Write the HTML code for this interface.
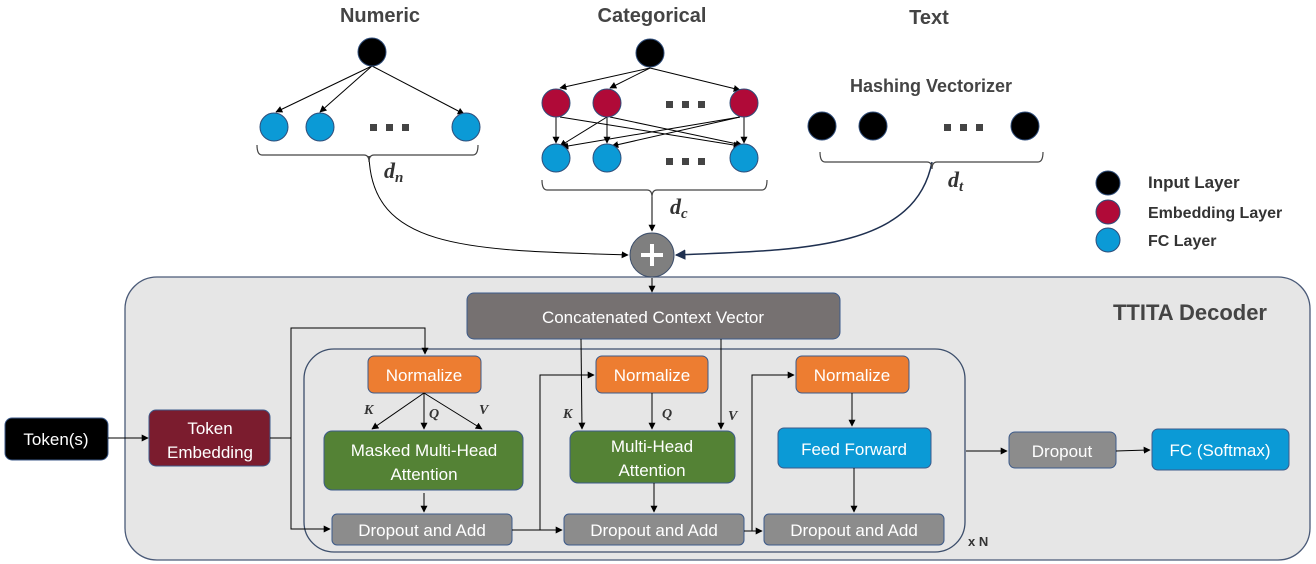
<!DOCTYPE html>
<html><head><meta charset="utf-8"><style>
html,body{margin:0;padding:0;background:#fff;}
svg{display:block;}
.t{font-family:"Liberation Sans",sans-serif;}
.w{font-family:"Liberation Sans",sans-serif;fill:#fff;font-size:17px;text-anchor:middle;}
.h{font-family:"Liberation Sans",sans-serif;font-weight:bold;fill:#444;text-anchor:middle;}
.m{font-family:"Liberation Serif",serif;font-weight:bold;font-style:italic;fill:#333;}
</style></head><body>
<svg width="1316" height="564" viewBox="0 0 1316 564" xmlns="http://www.w3.org/2000/svg">
<defs><marker id="a" viewBox="0 0 10 10" refX="9" refY="5" markerWidth="7" markerHeight="7" orient="auto"><path d="M0,0L10,5L0,10z" fill="#000"/></marker>
<marker id="b" viewBox="0 0 10 10" refX="9" refY="5" markerWidth="7" markerHeight="7" orient="auto"><path d="M0,0L10,5L0,10z" fill="#1f3050"/></marker></defs>
<g stroke="#000" stroke-width="1" fill="none">
<rect x="125" y="277" width="1185" height="283" rx="32" fill="#e6e6e6" stroke="#4a5a78" stroke-width="1.3"/>
<rect x="304" y="349" width="661" height="203" rx="30" fill="#e6e6e6" stroke="#3c4e6b" stroke-width="1.3"/>
</g>
<text class="h" x="380" y="22" font-size="20">Numeric</text>
<text class="h" x="652" y="22" font-size="20">Categorical</text>
<text class="h" x="929" y="24" font-size="20">Text</text>
<text class="h" x="931" y="92" font-size="18">Hashing Vectorizer</text>
<g stroke="#000" stroke-width="1" fill="none" marker-end="url(#a)">
<line x1="372" y1="66" x2="276" y2="112"/><line x1="372" y1="66" x2="320" y2="112"/><line x1="372" y1="66" x2="464" y2="114"/>
<line x1="650" y1="68" x2="560" y2="88"/><line x1="650" y1="68" x2="610" y2="88"/><line x1="650" y1="68" x2="740" y2="90"/>
<line x1="556" y1="117" x2="556" y2="143"/><line x1="607" y1="117" x2="607" y2="143"/><line x1="744" y1="117" x2="744" y2="143"/>
<line x1="560" y1="117" x2="740" y2="146"/><line x1="610" y1="117" x2="742" y2="145"/><line x1="607" y1="117" x2="560" y2="146"/>
<line x1="740" y1="117" x2="562" y2="147"/><line x1="740" y1="117" x2="612" y2="146"/>
<line x1="652" y1="195" x2="652" y2="231"/>
<line x1="652" y1="278" x2="652" y2="292"/>
</g>
<path d="M369 156 C 372 250, 470 250, 628 255" stroke="#000" fill="none" marker-end="url(#a)"/>
<path d="M932 162 C 915 250, 800 250, 676 255" stroke="#1f3050" stroke-width="1.5" fill="none" marker-end="url(#b)"/>
<g stroke="#2f4d7a" stroke-width="1">
<circle cx="372" cy="52" r="14" fill="#000"/>
<circle cx="274" cy="127" r="14" fill="#0b9ad6"/><circle cx="320" cy="127" r="14" fill="#0b9ad6"/><circle cx="466" cy="127" r="14" fill="#0b9ad6"/>
<circle cx="650" cy="53" r="14" fill="#000"/>
<circle cx="556" cy="103" r="14" fill="#b00a38"/><circle cx="607" cy="103" r="14" fill="#b00a38"/><circle cx="744" cy="103" r="14" fill="#b00a38"/>
<circle cx="556" cy="158" r="14" fill="#0b9ad6"/><circle cx="607" cy="158" r="14" fill="#0b9ad6"/><circle cx="744" cy="158" r="14" fill="#0b9ad6"/>
<circle cx="822" cy="126" r="14" fill="#000"/><circle cx="873" cy="126" r="14" fill="#000"/><circle cx="1025" cy="126" r="14" fill="#000"/>
<circle cx="1108" cy="183" r="12" fill="#000"/><circle cx="1108" cy="212" r="12" fill="#b00a38"/><circle cx="1108" cy="240" r="12" fill="#0b9ad6"/>
</g>
<g fill="#444"><rect x="370" y="124" width="7" height="7"/><rect x="386" y="124" width="7" height="7"/><rect x="402" y="124" width="7" height="7"/>
<rect x="666" y="101" width="7" height="7"/><rect x="682" y="101" width="7" height="7"/><rect x="698" y="101" width="7" height="7"/>
<rect x="666" y="158" width="7" height="7"/><rect x="682" y="158" width="7" height="7"/><rect x="698" y="158" width="7" height="7"/>
<rect x="944" y="124" width="7" height="7"/><rect x="960" y="124" width="7" height="7"/><rect x="976" y="124" width="7" height="7"/></g>
<g stroke="#444" stroke-width="1.2" fill="none">
<path d="M257 145 Q257 155 262 155 L364 155 Q369 155 369 162 Q369 155 374 155 L473 155 Q478 155 478 145"/>
<path d="M542 180 Q542 190 547 190 L647 190 Q652 190 652 197 Q652 190 657 190 L762 190 Q767 190 767 180"/>
<path d="M820 152 Q820 162 825 162 L927 162 Q932 162 932 169 Q932 162 937 162 L1038 162 Q1043 162 1043 152"/>
</g>
<text class="m" x="384" y="178" font-size="22">d<tspan font-size="15" dy="4">n</tspan></text>
<text class="m" x="670" y="214" font-size="22">d<tspan font-size="15" dy="4">c</tspan></text>
<text class="m" x="948" y="187" font-size="22">d<tspan font-size="15" dy="4">t</tspan></text>
<text class="t" x="1148" y="188" font-size="17" font-weight="bold" fill="#333">Input Layer</text>
<text class="t" x="1148" y="218" font-size="16" font-weight="bold" fill="#333">Embedding Layer</text>
<text class="t" x="1148" y="246" font-size="16" font-weight="bold" fill="#333">FC Layer</text>
<circle cx="652" cy="255" r="22" fill="#7f7f7f" stroke="#3c4e6b"/>
<path d="M652 244v22M641 255h22" stroke="#fff" stroke-width="4"/>
<text class="h" x="1190" y="320" font-size="22" fill="#595959">TTITA Decoder</text>
<text class="t" x="968" y="546" font-size="13" font-weight="bold" fill="#333">x N</text>
<g stroke="#3c5a8a" stroke-width="1">
<rect x="467" y="293" width="373" height="46" rx="7" fill="#767171"/>
<rect x="368" y="356" width="113" height="37" rx="6" fill="#ed7d31"/>
<rect x="596" y="356" width="112" height="37" rx="6" fill="#ed7d31"/>
<rect x="796" y="356" width="113" height="37" rx="6" fill="#ed7d31"/>
<rect x="324" y="431" width="199" height="59" rx="8" fill="#548235"/>
<rect x="570" y="431" width="165" height="52" rx="8" fill="#548235"/>
<rect x="778" y="428" width="153" height="40" rx="6" fill="#0b9ad6"/>
<rect x="332" y="514" width="180" height="31" rx="5" fill="#8c8c8c"/>
<rect x="564" y="514" width="180" height="31" rx="5" fill="#8c8c8c"/>
<rect x="764" y="514" width="180" height="31" rx="5" fill="#8c8c8c"/>
<rect x="5" y="418" width="103" height="42" rx="7" fill="#000"/>
<rect x="149" y="410" width="121" height="56" rx="7" fill="#7b1c2e"/>
<rect x="1009" y="432" width="107" height="36" rx="6" fill="#8c8c8c"/>
<rect x="1152" y="429" width="137" height="41" rx="6" fill="#0b9ad6"/>
</g>
<text class="w" x="653" y="323" font-size="19">Concatenated Context Vector</text>
<text class="w" x="424" y="381">Normalize</text>
<text class="w" x="652" y="381">Normalize</text>
<text class="w" x="852" y="381">Normalize</text>
<text class="w" x="424" y="456">Masked Multi-Head</text>
<text class="w" x="424" y="480">Attention</text>
<text class="w" x="652" y="452">Multi-Head</text>
<text class="w" x="652" y="476">Attention</text>
<text class="w" x="854" y="455">Feed Forward</text>
<text class="w" x="422" y="536">Dropout and Add</text>
<text class="w" x="654" y="536">Dropout and Add</text>
<text class="w" x="854" y="536">Dropout and Add</text>
<text class="w" x="56" y="445">Token(s)</text>
<text class="w" x="210" y="434">Token</text>
<text class="w" x="210" y="458">Embedding</text>
<text class="w" x="1062" y="457">Dropout</text>
<text class="w" x="1220" y="456">FC (Softmax)</text>
<g stroke="#000" stroke-width="1" fill="none" marker-end="url(#a)">
<line x1="108" y1="438" x2="148" y2="438"/>
<path d="M270 438 H291 V328 H425 V354"/>
<path d="M291 438 V529 H330"/>
<line x1="424" y1="393" x2="372" y2="429"/><line x1="424" y1="393" x2="424" y2="429"/><line x1="424" y1="393" x2="482" y2="429"/>
<line x1="424" y1="493" x2="424" y2="512"/>
<path d="M512 530 H562"/>
<path d="M540 530 V375 H594"/>
<line x1="581" y1="339" x2="582" y2="429"/><line x1="721" y1="339" x2="721" y2="429"/>
<line x1="652" y1="393" x2="652" y2="429"/>
<line x1="654" y1="483" x2="654" y2="512"/>
<path d="M744 531 H762"/>
<path d="M752 531 V375 H794"/>
<line x1="852" y1="393" x2="852" y2="426"/>
<line x1="854" y1="468" x2="854" y2="512"/>
<line x1="966" y1="451" x2="1007" y2="451"/>
<line x1="1116" y1="451" x2="1150" y2="450"/>
</g>
<g class="m" font-size="14"><text x="364" y="414">K</text><text x="429" y="418">Q</text><text x="479" y="414">V</text>
<text x="563" y="418">K</text><text x="662" y="418">Q</text><text x="728" y="420">V</text></g>
</svg>
</body></html>
